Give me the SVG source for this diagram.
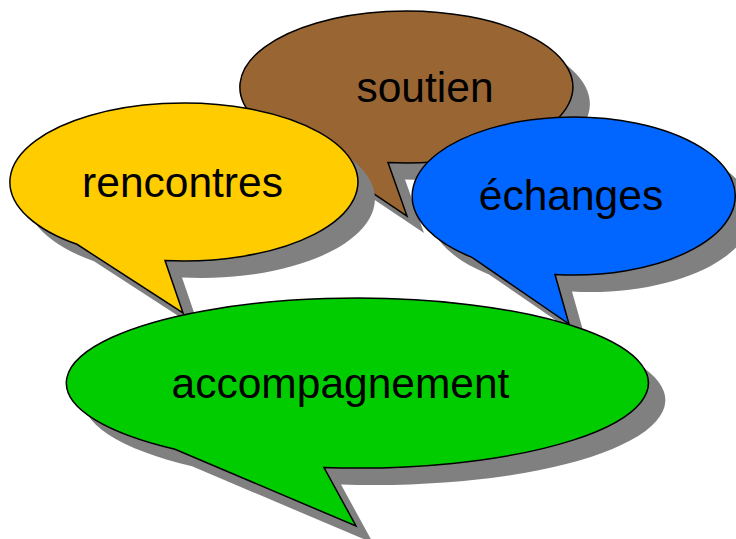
<svg xmlns="http://www.w3.org/2000/svg" xmlns:xlink="http://www.w3.org/1999/xlink" width="736" height="539" viewBox="0 0 736 539">
<style>
.shadow{fill:#808080;stroke:none}
.bubble{stroke:#000;stroke-width:1.5;stroke-linejoin:miter}
.label{font-family:"Liberation Sans",Arial,sans-serif;font-size:42.5px;fill:#000;text-anchor:middle}
</style>
<defs>
<path id="p-soutien" d="M388,162.5 A166.5,76 0 1 0 304,146.9 L407,216 Z"/>
<path id="p-rencontres" d="M165,260.5 A174,79 0 1 0 77,244.3 L183,313 Z"/>
<path id="p-echanges" d="M555,274.5 A161.5,79 0 1 0 472,257.4 L569,324 Z"/>
<path id="p-accomp" d="M324,467.5 A291,85 0 1 0 175,449.3 L356,526 Z"/>
</defs>
<rect width="736" height="539" fill="#fff"/>
<g id="connectors"/>
<g id="node-soutien">
<use xlink:href="#p-soutien" href="#p-soutien" class="shadow" transform="translate(17,17)"/>
<use xlink:href="#p-soutien" href="#p-soutien" class="bubble" fill="#996633"/>
<text class="label" x="425" y="102">soutien</text>
</g>
<g id="node-rencontres">
<use xlink:href="#p-rencontres" href="#p-rencontres" class="shadow" transform="translate(17,17)"/>
<use xlink:href="#p-rencontres" href="#p-rencontres" class="bubble" fill="#ffcc00"/>
<text class="label" x="182.5" y="197">rencontres</text>
</g>
<g id="node-echanges">
<use xlink:href="#p-echanges" href="#p-echanges" class="shadow" transform="translate(17,17)"/>
<use xlink:href="#p-echanges" href="#p-echanges" class="bubble" fill="#0066ff"/>
<text class="label" x="571" y="210">échanges</text>
</g>
<g id="node-accompagnement">
<use xlink:href="#p-accomp" href="#p-accomp" class="shadow" transform="translate(17,17)"/>
<use xlink:href="#p-accomp" href="#p-accomp" class="bubble" fill="#00cc00"/>
<text class="label" x="340.5" y="398">accompagnement</text>
</g>
</svg>
